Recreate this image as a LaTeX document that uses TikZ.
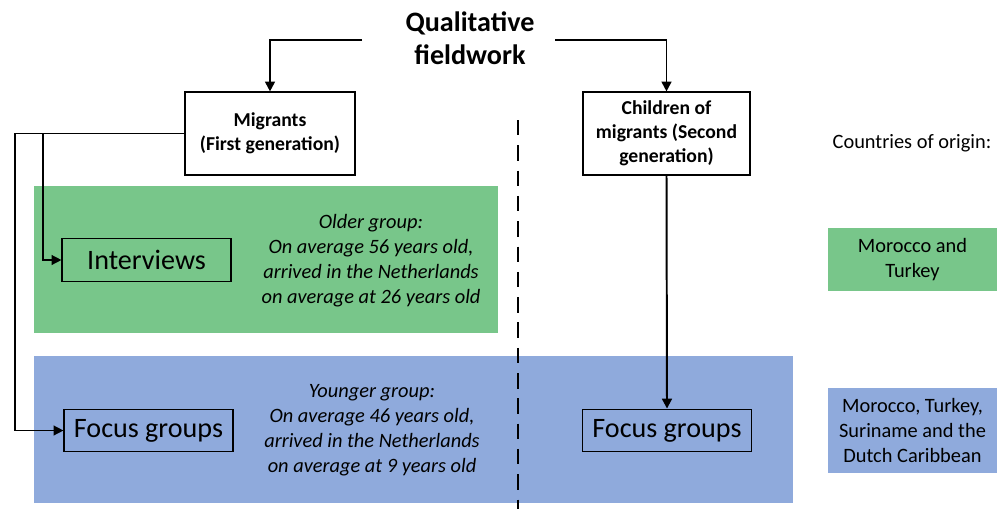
\documentclass[tikz,border=0pt]{standalone}
\usepackage{fontspec}
\setmainfont{Carlito}
\usepackage{tikz}
\usetikzlibrary{arrows.meta,positioning}
\definecolor{oldgreen}{HTML}{78C68A}
\definecolor{youngblue}{HTML}{8FAADC}

\begin{document}
\begin{tikzpicture}[
  font=\fontsize{14.5}{17.8}\selectfont,
  genbox/.style={draw=black,line width=0.8pt,fill=white,inner sep=0pt,minimum width=4.2cm,
                 minimum height=2.075cm,align=center,font=\fontsize{14}{17}\selectfont\bfseries},
  method/.style={draw=black,line width=0.8pt,inner sep=0pt,minimum width=4.225cm,
                 minimum height=1.07cm,font=\fontsize{20}{24}\selectfont},
  band/.style={inner sep=0pt,minimum height=3.675cm},
  note/.style={align=center,font=\fontsize{14.5}{17.8}\selectfont\itshape},
  origin/.style={inner sep=0pt,minimum width=4.225cm,align=center},
  flow/.style={-{Triangle[length=7pt,width=7pt]},line width=1.4pt},
  link/.style={-{Triangle[length=7pt,width=7pt]},line width=1pt}]
  \useasboundingbox (0,0) rectangle (25.175,-12.725);
  % coloured bands
  \node[band,fill=oldgreen,minimum width=11.6cm] (older) at (6.65,-6.4875) {};
  \node[band,fill=youngblue,minimum width=18.975cm] (younger) at (10.3375,-10.7375) {};
  % title and generations
  \node[align=center,font=\fontsize{20}{23.5}\selectfont\bfseries] (title) at (11.75,-0.95)
       {Qualitative\\fieldwork};
  \coordinate (tl) at (9.05,-1.0);
  \coordinate (tr) at (13.875,-1.0);
  \node[genbox,minimum width=4.25cm] (mig) at (6.75,-3.3375) {Migrants\\(First generation)};
  \node[genbox,minimum width=4.175cm] (chld) at (16.6625,-3.3375)
       {Children of\\migrants (Second\\generation)};
  \draw[flow] (tl) -| (mig.north);
  \draw[flow] (tr) -| (chld.north);
  % split line
  \coordinate (dtop) at (12.95,-3.0);
  \coordinate (dbot) at (12.95,-12.725);
  \draw[line width=1.4pt,dash pattern=on 11pt off 7pt] (dtop) -- (dbot);
  % methods
  \node[method] (intv) at (3.6625,-6.5) {Interviews};
  \node[method] (fgl) at (3.7125,-10.7625) {Focus groups};
  \node[method] (fgr) at (16.675,-10.7625) {Focus groups};
  \node[note] (oldtxt) at (9.275,-6.5125)
       {Older group:\\On average 56 years old,\\arrived in the Netherlands\\on average at 26 years old};
  \node[note] (youngtxt) at (9.3,-10.7625)
       {Younger group:\\On average 46 years old,\\arrived in the Netherlands\\on average at 9 years old};
  \coordinate (lft) at (0.375,0);
  \coordinate (inr) at (1.075,0);
  \draw[link] (mig.west) -- (mig.west -| lft) |- (fgl.west);
  \draw[link] (mig.west -| inr) |- (intv.west);
  \draw[flow] (chld.south) -- (fgr.north);
  % countries of origin
  \node (orig) at (22.8,-3.575) {Countries of origin:};
  \node[origin,fill=oldgreen,minimum height=1.575cm] (origA) at (22.8125,-6.4875)
       {Morocco and\\Turkey};
  \node[origin,fill=youngblue,minimum height=2.125cm] (origB) at (22.8125,-10.7625)
       {Morocco, Turkey,\\Suriname and the\\Dutch Caribbean};
\end{tikzpicture}
\end{document}
